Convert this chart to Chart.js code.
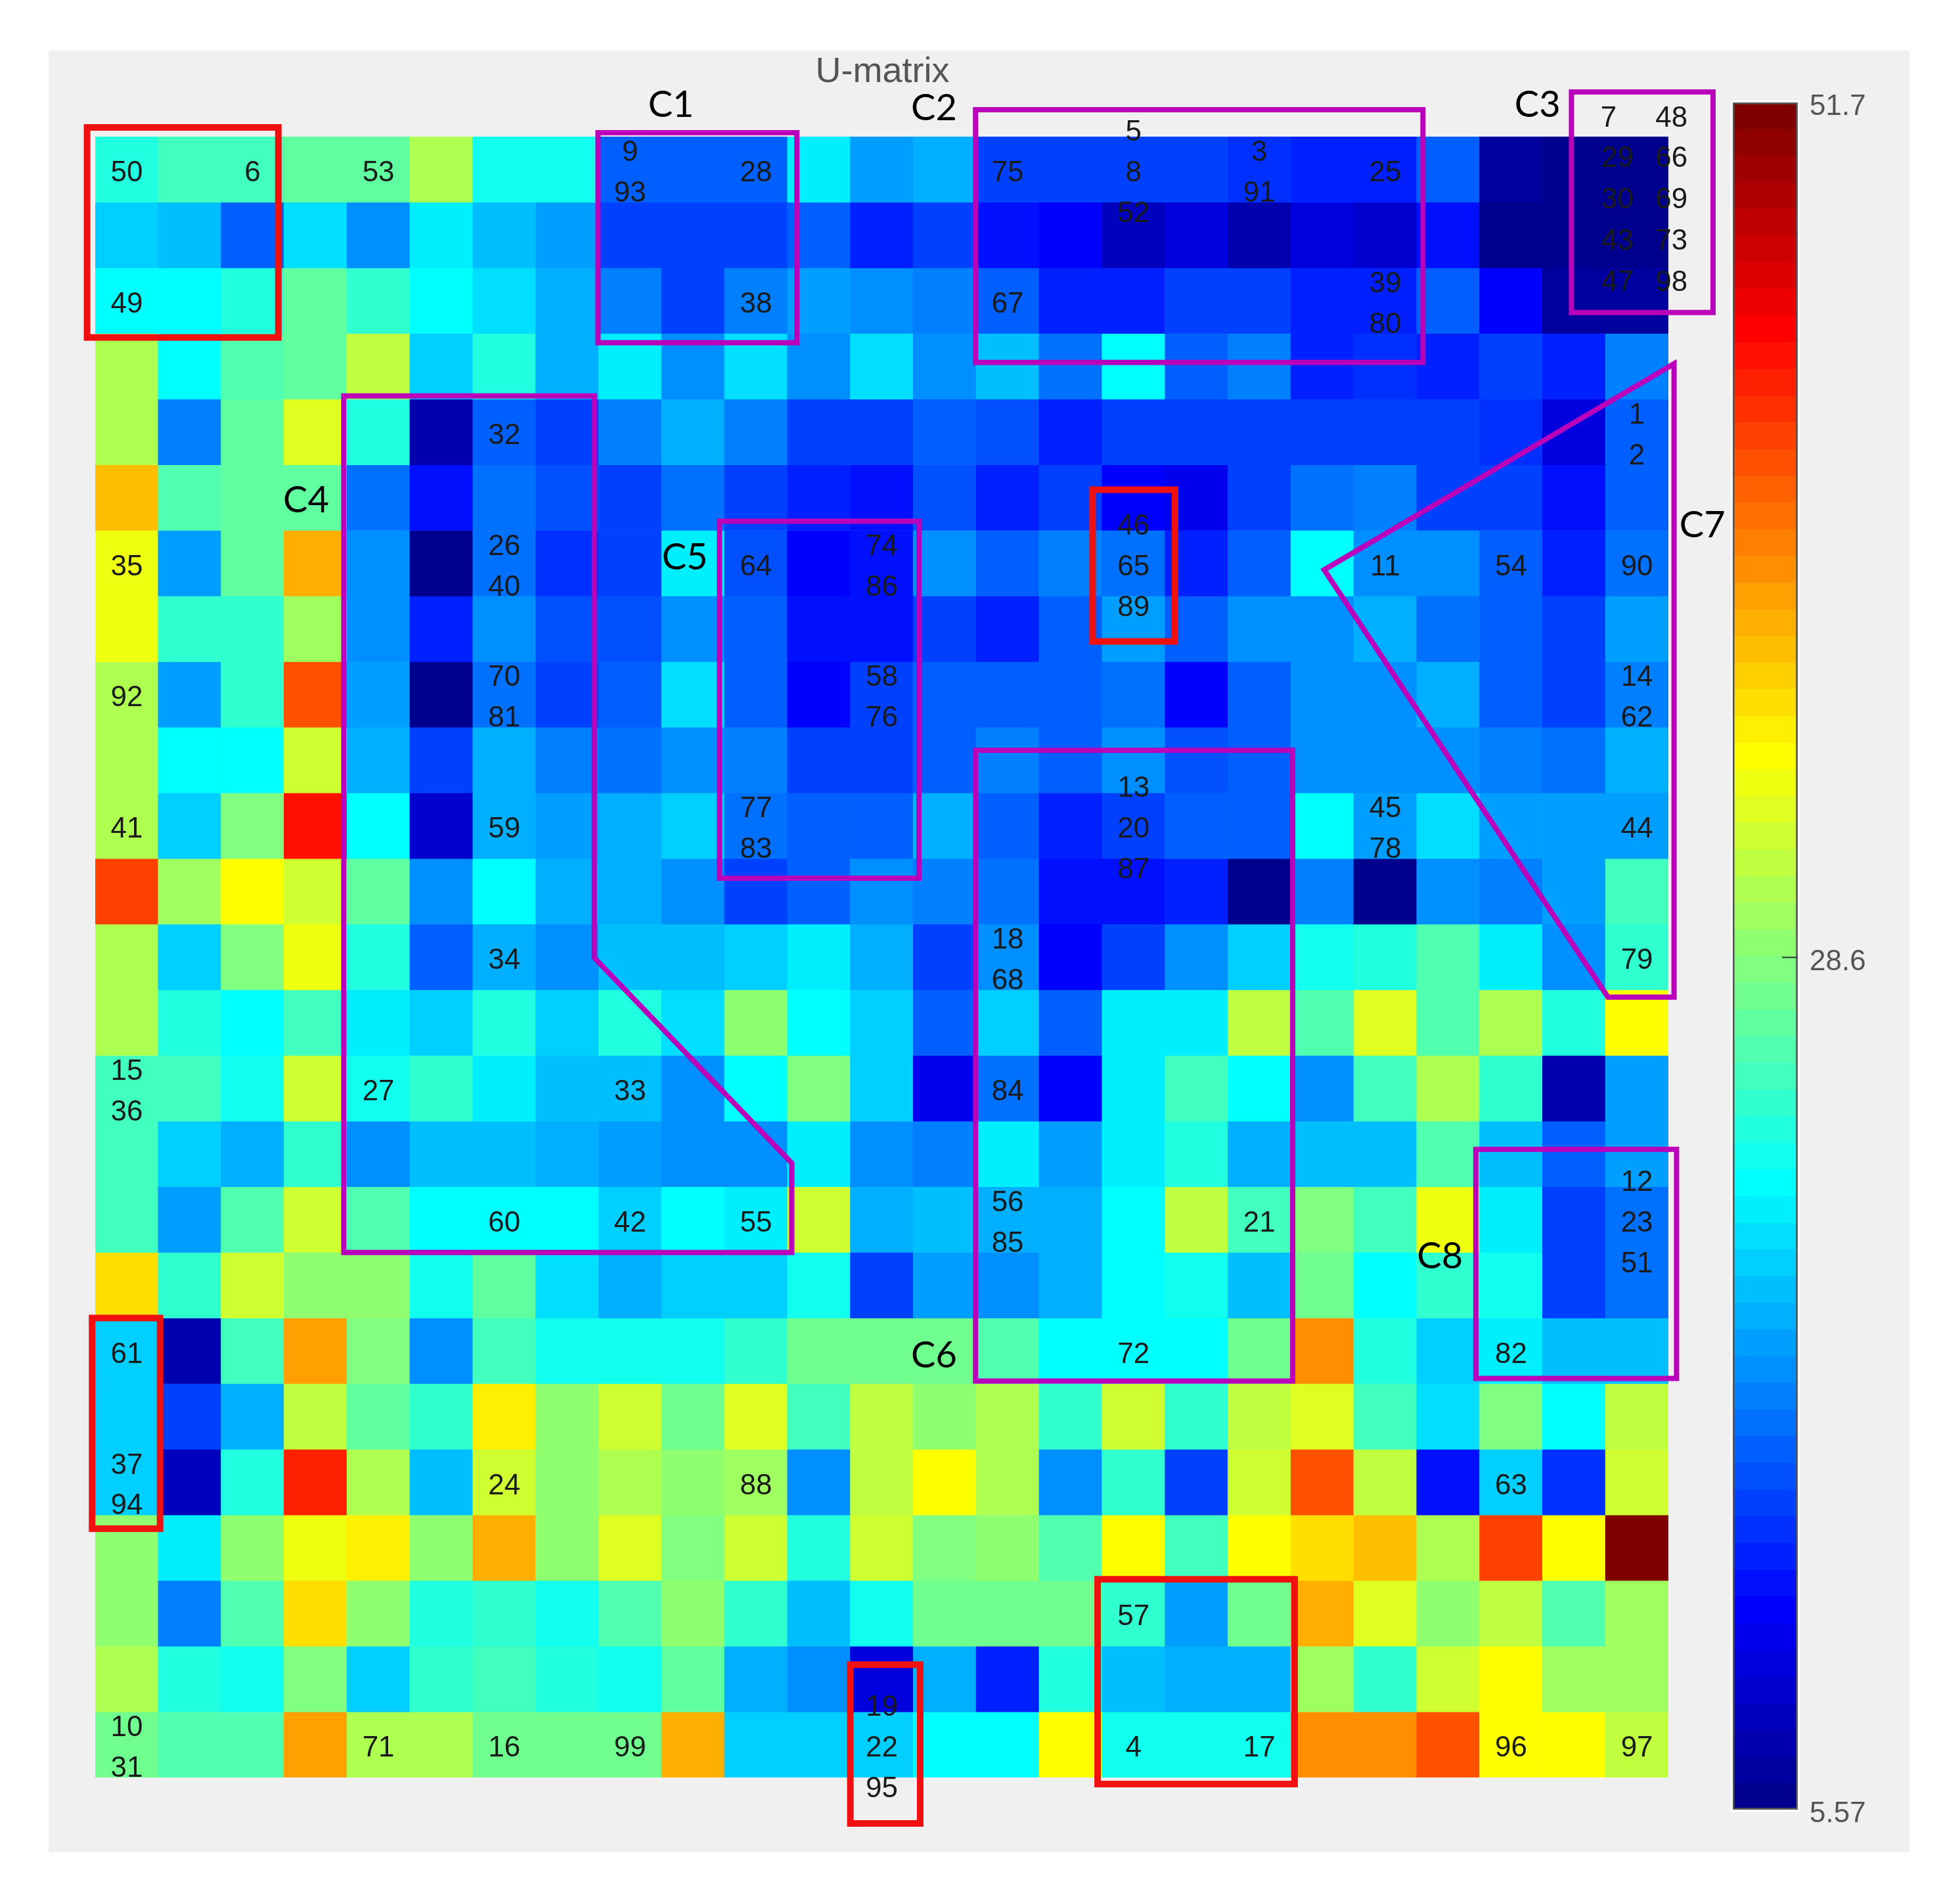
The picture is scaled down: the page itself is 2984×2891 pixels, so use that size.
<!DOCTYPE html>
<html lang="en">
<head>
    <meta charset="UTF-8">
    <title>U-matrix</title>
    <script src="https://cdn.jsdelivr.net/npm/chart.js"></script>
    <style>
        body { margin: 0; background: white; }
        #page { position: relative; width: 2984px; height: 2891px; overflow: hidden; }
        #panel { position: absolute; left: 74px; top: 77px; width: 2833px; height: 2743px; background: #f0f0f0; }
        canvas { position: absolute; top: 0; }
        #map-chart { left: 0; }
        #bar-chart { left: 2600px; }
    </style>
</head>
<body>
<div id="page">
    <div id="panel"></div>
    <canvas id="map-chart" width="2984" height="2891"></canvas>
    <canvas id="bar-chart" width="384" height="2891"></canvas>
</div>

<script>
// u-matrix values, one list per row
const row01 = [24.3,26,26,27.5,27.5,30.5,23.5,23.5,15.5,15.5,15.5,22.5,18.8,19,14,14,14,14,13.5,13,13,16,7,6.5,6];
const row02 = [20.5,20,15.5,21.5,18,22.3,20,18.5,14,14,14,16,12.8,14.5,12,11,8.3,10,7.8,10,9.5,12,6.5,6.3,5.8];
const row03 = [22.9,22.9,24.3,27.2,25,22.9,21.5,19,17,14,17,18.5,18,17,15.5,12.5,13,14.5,14,12.5,12.5,15.5,11,7,7];
const row04 = [31,22.7,26.5,27.2,31.5,21,24.3,19,22.5,18,21.5,17.7,21.3,17.8,20,16.3,22.9,16,17,13,13.5,12.5,14,12.5,17];
const row05 = [31,17,27.5,33,24,7.5,16,14.5,17,19,17,14,14.2,15.5,14.8,13,14,14,14.4,14.5,14.5,14,13.2,10.2,16];
const row06 = [37.3,26.5,27.5,27.5,16.3,12,16.3,14.8,14.5,16.3,14.5,12.5,12.3,15.2,13,14,11,10.8,14,16.3,17,14,14,12,16];
const row07 = [33.8,18.5,27.5,37.8,17.5,5.6,16.2,13.8,14.5,22.5,15.3,11.3,12.3,17.8,16,17,16.5,12.5,15.5,22.9,18,17.8,15.5,12.5,16.3];
const row08 = [33.8,25,25,30,17.8,13,18,14.6,15.3,18,15.5,12,12.3,14.3,13,15.5,18.5,15.5,18,18,19,16.6,15.5,14.2,18.5];
const row09 = [31,18.5,25,42.5,18.5,6,16.3,14.5,15.5,21.5,15.5,11,14,15.5,15.5,15.5,16.3,11,15.5,18,18,19,15.8,14,17];
const row10 = [31,22.9,22.9,32.5,19,14.5,19.5,17,16.3,17.5,17,14.5,14.5,16,17,15.5,18,15,15.5,17.8,17.8,17.5,17,16.6,19];
const row11 = [31,20.5,28.6,45,22.9,9.3,19,18.7,19,20.5,16.5,15.5,16,19.5,16,12.7,14.5,15.5,15.5,22.9,18.5,21.5,18.5,18.5,18.5];
const row12 = [42.7,30,34.4,32.5,27,18,22.9,19,19,17.5,14,16,18,17,16.3,12,12,12.7,6,17,5.8,17.8,17,18.5,26];
const row13 = [31,21,28.4,33.8,24.3,16,19,17.8,20,20,21,22,19,14,17.5,11,14,17.5,20.5,23.5,24.3,26.5,22.5,18,25];
const row14 = [31,24.3,22.9,26,22.2,21,24.3,20.7,24.3,21.5,29.2,22.8,21,16,20.8,15.8,22.5,22.5,31.2,26.5,33,26.5,31,24.3,34.4];
const row15 = [26,25.8,23.5,32.5,23.5,25,22.3,20,20,18,22.9,28.4,20.5,10.5,16.3,11,22.5,25.8,22.9,18,26,30.5,25,7.7,18.7];
const row16 = [26,21,19,25,18,19.7,19.7,19.3,18.7,18,17.7,22.2,18,17,22.2,18.7,22,24,19.3,19.7,19.7,26.5,19.7,15.5,18.7];
const row17 = [26,18.5,26.5,32.5,26.5,22.9,22.9,22.9,21,22.9,22.2,32.5,19,20,19,19,22.9,31.5,26,28.9,26,33.8,22,14.3,16.3];
const row18 = [36,25,32.5,29.5,29,23.5,27,21.5,19,20.7,20.7,23.5,14.3,18.7,17.5,19,22.9,23.8,20,28,22.9,25,23.5,14.3,16.3];
const row19 = [20.5,7.7,26,38.5,28.4,17.5,26,23.5,23.5,23.5,25,27.8,27.8,27.8,26.5,22.9,22.9,22.9,27.8,39.5,24,20.7,22.5,20,20];
const row20 = [20.5,14.3,19,31.5,27.2,25,35.3,29,32.5,27.8,33,25.8,31.2,29,30.5,25,32.5,25,31.5,33,26,21.5,28.4,22.9,31.5];
const row21 = [20.5,8.7,24.3,44.5,30.5,19.7,32,29.2,30.5,29.5,30,17.5,31.5,34.4,30.5,17.5,25,14.3,32.5,42.3,31.5,12,20.7,13.3,32];
const row22 = [29.5,22.2,29.5,33.8,35,29,37.8,29.2,33,28.4,32.5,24,32,28.4,29.5,26.5,34.4,26,34.4,35.7,37.3,30.5,43,34.4,51.7];
const row23 = [29.5,17,26.5,35.8,29.2,24,25,23.5,26.5,29,25,20,23.5,28,28,28,25,18.5,27.8,38,33,29.2,31.5,26.5,30];
const row24 = [31,24,23.5,28.4,20.7,25,25.8,24,23.5,27,19.3,17.8,10,19,13,24,20,19.3,19,30,25,32.5,34.4,30,30];
const row25 = [28,26.5,26.5,38.7,30.5,30.5,27.8,27.8,27.8,37.8,20.5,20.5,20.5,22.9,22.9,34.4,23.5,23.5,23.5,39.5,39.5,42.3,34.4,34.4,31.5];
const rows = [row01,row02,row03,row04,row05,row06,row07,row08,row09,row10,row11,row12,row13,
              row14,row15,row16,row17,row18,row19,row20,row21,row22,row23,row24,row25];
const columns = row01.map((v, i) => String(i + 1));

const colorRange = [5.57, 51.7];
const colorTicks = [5.57, 28.6, 51.7];

// sample numbers on the map: [column, row, lines]
const hitLabels = [
    [1,1,['50']],[3,1,['6']],[5,1,['53']],[9,1,['9','93']],[11,1,['28']],[15,1,['75']],
    [17,1,['5','8','52']],[19,1,['3','91']],[21,1,['25']],
    [1,3,['49']],[11,3,['38']],[15,3,['67']],[21,3,['39','80']],
    [7,5,['32']],[25,5,['1','2']],
    [1,7,['35']],[7,7,['26','40']],[11,7,['64']],[13,7,['74','86']],[17,7,['46','65','89']],
    [21,7,['11']],[23,7,['54']],[25,7,['90']],
    [1,9,['92']],[7,9,['70','81']],[13,9,['58','76']],[25,9,['14','62']],
    [1,11,['41']],[7,11,['59']],[11,11,['77','83']],[17,11,['13','20','87']],[21,11,['45','78']],[25,11,['44']],
    [7,13,['34']],[15,13,['18','68']],[25,13,['79']],
    [1,15,['15','36']],[5,15,['27']],[9,15,['33']],[15,15,['84']],
    [7,17,['60']],[9,17,['42']],[11,17,['55']],[15,17,['56','85']],[19,17,['21']],[25,17,['12','23','51']],
    [1,19,['61']],[17,19,['72']],[23,19,['82']],
    [1,21,['37','94']],[7,21,['24']],[11,21,['88']],[23,21,['63']],
    [17,23,['57']],
    [1,25,['10','31']],[5,25,['71']],[7,25,['16']],[9,25,['99']],[13,25,['19','22','95']],
    [17,25,['4']],[19,25,['17']],[23,25,['96']],[25,25,['97']]
];
// the C3 block was moved by hand in the original, so it has its own spots
const c3Labels = [
    ['7',24.05,-0.33],['48',25.05,-0.33],['29',24.19,0.28],['66',25.05,0.28],['30',24.19,0.91],['69',25.05,0.91],
    ['43',24.19,1.54],['73',25.05,1.54],['47',24.19,2.17],['98',25.05,2.17]
];

// overlays, in grid units (0-25 across and down)
const clusterNames = [
    ['C1',9.15,-0.48],['C2',13.33,-0.43],['C3',22.92,-0.48],['C4',3.35,5.54],
    ['C5',9.37,6.41],['C6',13.33,18.57],['C7',25.54,5.92],['C8',21.37,17.06]
];
const purpleOutlines = [
    [[7.99,-0.06],[11.15,-0.06],[11.15,3.14],[7.99,3.14]],
    [[13.99,-0.41],[21.1,-0.41],[21.1,3.44],[13.99,3.44]],
    [[23.46,-0.68],[25.71,-0.68],[25.71,2.68],[23.46,2.68]],
    [[3.95,3.95],[7.93,3.95],[7.93,12.51],[11.07,15.64],[11.07,17],[3.95,17]],
    [[9.92,5.86],[13.09,5.86],[13.09,11.3],[9.92,11.3]],
    [[13.99,9.35],[19.03,9.35],[19.03,18.96],[13.99,18.96]],
    [[19.53,6.6],[25.09,3.46],[25.09,13.11],[24.04,13.11]],
    [[21.94,15.43],[25.13,15.43],[25.13,18.92],[21.94,18.92]]
];
const redBoxes = [
    [[-0.13,-0.14],[2.91,-0.14],[2.91,3.06],[-0.13,3.06]],
    [[-0.05,18],[1.03,18],[1.03,21.21],[-0.05,21.21]],
    [[12,23.28],[13.11,23.28],[13.11,25.7],[12,25.7]],
    [[15.93,21.98],[19.06,21.98],[19.06,25.1],[15.93,25.1]],
    [[15.85,5.38],[17.16,5.38],[17.16,7.69],[15.85,7.69]]
];

// MATLAB jet(64)
function jetRamp(k) {
    if (k < 1 || k > 47) return 0;
    if (k <= 16) return k / 16;
    if (k <= 31) return 1;
    return (48 - k) / 16;
}
function jetLevel(i) {
    const c = [jetRamp(i - 24), jetRamp(i - 8), jetRamp(i + 8)].map(x => Math.round(x * 255));
    return 'rgb(' + c.join(',') + ')';
}
function jetColor(v) {
    const t = (v - colorRange[0]) / (colorRange[1] - colorRange[0]);
    return jetLevel(Math.min(64, Math.max(1, Math.round(t * 64))));
}

const overlayPlugin = {
    id: 'overlay',
    afterDatasetsDraw(chart) {
        const ctx = chart.ctx;
        const X = u => chart.scales.x.getPixelForValue(u - 0.5);
        const Y = v => chart.scales.y.getPixelForValue(v);

        ctx.save();
        ctx.textAlign = 'center';
        ctx.textBaseline = 'middle';

        // numbers sit a little under the cell middle, baseline 'middle' runs high here
        ctx.fillStyle = '#1a1a1a';
        ctx.font = '44px "Liberation Sans"';
        hitLabels.forEach(([col, row, lines]) => {
            lines.forEach((txt, k) => {
                ctx.fillText(txt, X(col - 0.5), Y(row - 0.5 + (k - (lines.length - 1) / 2) * 0.62) + 6);
            });
        });
        c3Labels.forEach(([txt, u, v]) => ctx.fillText(txt, X(u), Y(v) + 6));

        function outline(points, color, width) {
            ctx.beginPath();
            points.forEach(([u, v], i) => i ? ctx.lineTo(X(u), Y(v)) : ctx.moveTo(X(u), Y(v)));
            ctx.closePath();
            ctx.lineWidth = width;
            ctx.lineJoin = 'miter';
            ctx.strokeStyle = color;
            ctx.stroke();
        }
        purpleOutlines.forEach(p => outline(p, '#bb00bb', 8));
        redBoxes.forEach(p => outline(p, '#f01010', 10));

        ctx.fillStyle = '#000';
        ctx.font = '56px Lato';
        clusterNames.forEach(([txt, u, v]) => ctx.fillText(txt, X(u), Y(v)));

        ctx.fillStyle = '#555';
        ctx.font = '54px "Liberation Sans"';
        ctx.fillText('U-matrix', X(12.51), Y(-1.02) + 4);
        ctx.restore();
    }
};

new Chart(document.getElementById('map-chart').getContext('2d'), {
    type: 'bar',
    data: {
        labels: columns,
        datasets: rows.map((vals, r) => ({
            data: vals.map(() => [r, r + 1]),
            backgroundColor: vals.map(jetColor),
            borderWidth: 0
        }))
    },
    options: {
        responsive: false,
        animation: false,
        devicePixelRatio: 1,
        grouped: false,
        barPercentage: 1,
        categoryPercentage: 1,
        layout: { padding: { left: 145, top: 208, right: 444, bottom: 185 } },
        plugins: { legend: { display: false }, tooltip: { enabled: false } },
        scales: {
            x: { display: false, offset: true, grid: { display: false } },
            y: { display: false, min: 0, max: 25, reverse: true, grid: { display: false } }
        }
    },
    plugins: [overlayPlugin]
});

function colorbarFill(context) {
    const area = context.chart.chartArea;
    if (!area) return '#000';
    const g = context.chart.ctx.createLinearGradient(0, area.bottom, 0, area.top);
    for (let i = 1; i <= 64; i++) {
        g.addColorStop((i - 1) / 64, jetLevel(i));
        g.addColorStop(i / 64, jetLevel(i));
    }
    return g;
}

const colorbarPlugin = {
    id: 'colorbarExtras',
    beforeDatasetsDraw(chart) {
        const a = chart.chartArea;
        chart.ctx.save();
        chart.ctx.fillStyle = '#fff';
        chart.ctx.fillRect(a.left - 3, a.top - 3, a.right - a.left + 6, a.bottom - a.top + 6);
        chart.ctx.restore();
    },
    afterDatasetsDraw(chart) {
        const a = chart.chartArea;
        const y = chart.scales.y.getPixelForValue(colorTicks[1]);
        const ctx = chart.ctx;
        ctx.save();
        ctx.strokeStyle = '#333';
        ctx.lineWidth = 2;
        ctx.beginPath();
        ctx.moveTo(a.right - 24, y);
        ctx.lineTo(a.right, y);
        ctx.stroke();
        ctx.restore();
    }
};

new Chart(document.getElementById('bar-chart').getContext('2d'), {
    type: 'bar',
    data: {
        labels: ['U'],
        datasets: [{
            data: [colorRange],
            backgroundColor: colorbarFill,
            borderColor: '#555',
            borderWidth: 3,
            borderSkipped: false
        }]
    },
    options: {
        responsive: false,
        animation: false,
        devicePixelRatio: 1,
        barPercentage: 1,
        categoryPercentage: 1,
        layout: { padding: { left: 38, top: 156, bottom: 136, right: 0 } },
        plugins: { legend: { display: false }, tooltip: { enabled: false } },
        scales: {
            x: { display: false, grid: { display: false } },
            y: {
                position: 'right',
                min: colorRange[0],
                max: colorRange[1],
                border: { display: false },
                grid: { display: false, drawTicks: false },
                afterBuildTicks: scale => { scale.ticks = colorTicks.map(v => ({ value: v })); },
                afterFit: scale => { scale.width = 247; },
                ticks: {
                    autoSkip: false,
                    padding: 18,
                    labelOffset: 7,
                    maxRotation: 0,
                    color: '#555',
                    font: { family: '"Liberation Sans"', size: 44 },
                    callback: v => String(v)
                }
            }
        }
    },
    plugins: [colorbarPlugin]
});
</script>
</body>
</html>
